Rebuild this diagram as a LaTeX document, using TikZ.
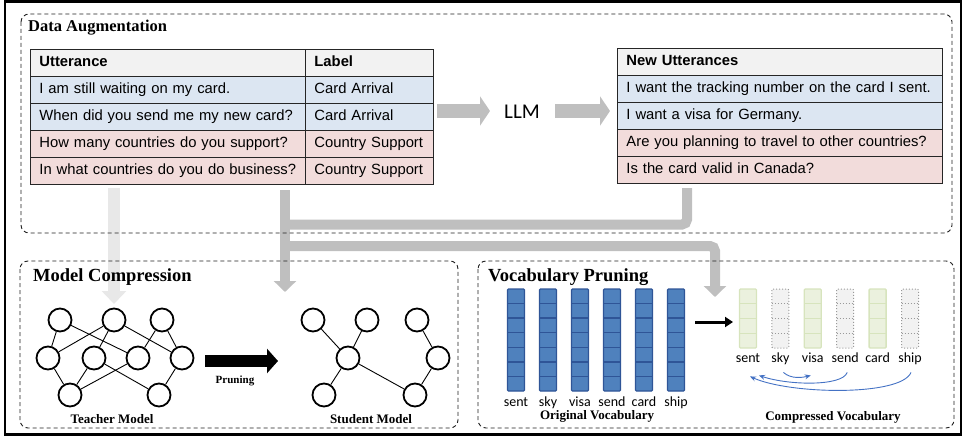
\documentclass[tikz,border=0pt]{standalone}
\usepackage{fontspec}
\setmainfont{Liberation Sans}
\newfontfamily\calf{Carlito}
\newfontfamily\serff{Liberation Serif}
\usetikzlibrary{arrows.meta,calc}
\definecolor{hdr}{HTML}{F2F2F2}
\definecolor{blu}{HTML}{DCE6F2}
\definecolor{pnk}{HTML}{F2DCDB}
\definecolor{arrg}{HTML}{BFBFBF}
\definecolor{arrl}{HTML}{E8E8E8}
\definecolor{vblue}{HTML}{4F81BD}
\definecolor{vblued}{HTML}{2F5597}
\definecolor{vgreen}{HTML}{EBF1DE}
\definecolor{vgreend}{HTML}{D7E4BD}
\definecolor{cblue}{HTML}{4472C4}
\begin{document}
\begin{tikzpicture}[x=1pt,y=-1pt,
  cell/.style={draw=black!85, line width=0.9pt, anchor=north west, minimum height=27pt, inner xsep=9pt, inner ysep=0pt, text height=10.5pt, text depth=3pt, align=left, text width=#1, font=\fontsize{14.8}{17}\selectfont},
  dbox/.style={draw=black!88, line width=0.9pt, dash pattern=on 4pt off 3pt, rounded corners=8pt},
  title/.style={font=\serff\bfseries\fontsize{18.5}{20}\selectfont, anchor=west, inner sep=0pt},
  graybar/.style={draw=arrg, line width=10pt},
  gtip/.style={-{Triangle[width=22pt,length=11pt]}},
  neuron/.style={circle, draw=black, line width=1.8pt, minimum size=23pt, inner sep=0pt},
  edge/.style={line width=0.9pt},
  vlab/.style={font=\calf\fontsize{14}{16}\selectfont, text height=9.5pt, text depth=3pt, inner sep=2pt},
  caplab/.style={font=\serff\bfseries\fontsize{13}{15}\selectfont, inner sep=0pt},
  curv/.style={draw=cblue, line width=0.9pt, -{Stealth[length=6pt,width=5pt]}},
]
\useasboundingbox (0,0) rectangle (964,441);
\draw[line width=2.2pt] (5,1.5) rectangle (961,434.5);

% gray connectors
\draw[draw=arrl, line width=12pt, -{Triangle[width=24pt,length=13pt]}] (114,188) -- (114,304);
\coordinate (g1) at (285,190); \coordinate (g2) at (285,292);
\coordinate (g3) at (687,188); \coordinate (g4) at (285,224.5);
\coordinate (g5) at (285,246); \coordinate (g6) at (715,297);
\draw[graybar, gtip] (g1) -- (g2);
\draw[graybar, rounded corners=5pt] (g3) |- (g4);
\draw[graybar, rounded corners=5pt, gtip] (g5) -| (g6);

% dashed panels
\draw[dbox] (21,14) rectangle (952,233);
\draw[dbox] (20,261) rectangle (458,428);
\draw[dbox] (478,261) rectangle (954,428);

\node[title, font=\serff\bfseries\fontsize{16.5}{18}\selectfont] (tDA) at (28,28) {Data Augmentation};
\node[title] (tMC) at (33,277) {Model Compression};
\node[title] (tVP) at (488,277) {Vocabulary Pruning};

% table 1
\node[cell=257pt, fill=hdr] (h1) at (30,49) {\textbf{Utterance}};
\node[cell=110pt, fill=hdr] (h2) at (305,49) {\textbf{Label}};
\node[cell=257pt, fill=blu] (u1) at (30,76) {\mbox{I am still waiting on my card.}};
\node[cell=110pt, fill=blu] (l1) at (305,76) {\mbox{Card Arrival}};
\node[cell=257pt, fill=blu] (u2) at (30,103) {\mbox{When did you send me my new card?}};
\node[cell=110pt, fill=blu] (l2) at (305,103) {\mbox{Card Arrival}};
\node[cell=257pt, fill=pnk] (u3) at (30,130) {\mbox{How many countries do you support?}};
\node[cell=110pt, fill=pnk] (l3) at (305,130) {\mbox{Country Support}};
\node[cell=257pt, fill=pnk] (u4) at (30,157) {\mbox{In what countries do you do business?}};
\node[cell=110pt, fill=pnk] (l4) at (305,157) {\mbox{Country Support}};

% table 2
\node[cell=307pt, fill=hdr] (n0) at (617,48) {\textbf{New Utterances}};
\node[cell=307pt, fill=blu] (n1) at (617,75) {\mbox{I want the tracking number on the card I sent.}};
\node[cell=307pt, fill=blu] (n2) at (617,102) {\mbox{I want a visa for Germany.}};
\node[cell=307pt, fill=pnk] (n3) at (617,129) {\mbox{Are you planning to travel to other countries?}};
\node[cell=307pt, fill=pnk] (n4) at (617,156) {\mbox{Is the card valid in Canada?}};

% LLM
\node[font=\calf\fontsize{21}{24}\selectfont, inner sep=0pt] (llm) at (522,112) {LLM};
\coordinate (a1s) at (437,111); \coordinate (a1e) at (490,111);
\coordinate (a2s) at (555,111); \coordinate (a2e) at (610,111);
\draw[draw=arrg, line width=14pt, -{Triangle[width=29pt,length=10pt]}] (a1s) -- (a1e);
\draw[draw=arrg, line width=14pt, -{Triangle[width=29pt,length=10pt]}] (a2s) -- (a2e);

% teacher network
\node[neuron] (T1) at (60,320) {};
\node[neuron] (T2) at (114,320) {};
\node[neuron] (T3) at (162,320) {};
\node[neuron] (T4) at (48,358) {};
\node[neuron] (T5) at (94,358) {};
\node[neuron] (T6) at (138,358) {};
\node[neuron] (T7) at (182,358) {};
\node[neuron] (T8) at (70,395) {};
\node[neuron] (T9) at (159,395) {};
\foreach \a/\b in {T1/T4,T1/T6,T2/T4,T2/T5,T2/T7,T3/T6,T3/T7,T4/T8,T5/T8,T5/T9,T6/T8,T7/T9}
  \draw[edge] (\a) -- (\b);

% student network
\node[neuron] (S1) at (313,320) {};
\node[neuron] (S2) at (367,320) {};
\node[neuron] (S3) at (417,320) {};
\node[neuron] (S4) at (348,358) {};
\node[neuron] (S5) at (438,358) {};
\node[neuron] (S6) at (324,395) {};
\node[neuron] (S7) at (415,395) {};
\foreach \a/\b in {S1/S4,S2/S4,S4/S6,S4/S7,S3/S5,S5/S7}
  \draw[edge] (\a) -- (\b);

\coordinate (p1) at (205,361); \coordinate (p2) at (278,361);
\draw[line width=12pt, -{Triangle[width=24pt,length=11pt]}] (p1) -- (p2);
\node[caplab, font=\serff\bfseries\fontsize{11}{13}\selectfont] (prl) at (235,381) {Pruning};
\node[caplab] (tm) at (112,419) {Teacher Model};
\node[caplab] (sm) at (371,419) {Student Model};

% original vocabulary
\foreach \i/\w in {0/sent,1/sky,2/visa,3/send,4/card,5/ship} {
  \pgfmathsetmacro\cx{516+32*\i}
  \draw[fill=vblue, draw=vblued, line width=1.3pt, rounded corners=1pt] (\cx-8.5,289) rectangle (\cx+8.5,391);
  \foreach \k in {1,...,6} \draw[vblued, line width=1.3pt] (\cx-8.5,289+14.571*\k) -- (\cx+8.5,289+14.571*\k);
  \node[vlab] (o\i) at (\cx,403) {\w};
}
\node[caplab] (ov) at (597,416) {Original Vocabulary};

% compressed vocabulary
\foreach \i in {0,2,4} {
  \pgfmathsetmacro\cx{748+32.4*\i}
  \draw[fill=vgreen, draw=vgreend, line width=1.3pt, rounded corners=1pt] (\cx-8.5,289) rectangle (\cx+8.5,348);
  \foreach \k in {1,2,3} \draw[vgreend, line width=1.3pt] (\cx-8.5,289+14.75*\k) -- (\cx+8.5,289+14.75*\k);
}
\foreach \i in {1,3,5} {
  \pgfmathsetmacro\cx{748+32.4*\i}
  \draw[fill=black!5, draw=black!40, line width=1pt, dotted, rounded corners=1pt] (\cx-8.5,289) rectangle (\cx+8.5,348);
  \foreach \k in {1,2,3} \draw[black!40, line width=1pt, dotted] (\cx-8.5,289+14.75*\k) -- (\cx+8.5,289+14.75*\k);
}
\foreach \i/\w in {0/sent,1/sky,2/visa,3/send,4/card,5/ship} {
  \pgfmathsetmacro\cx{748+32.4*\i}
  \node[vlab] (k\i) at (\cx,359) {\w};
}
\node[caplab] (cv) at (833,417) {Compressed Vocabulary};

\coordinate (v1) at (695,322); \coordinate (v2) at (733,322);
\draw[line width=3pt, -{Triangle[width=10pt,length=8pt]}] (v1) -- (v2);

\draw[curv] ($(k1.south)+(3,5)$) .. controls +(8,7) and +(-8,2) .. ($(k2.south)+(-2,8)$);
\draw[curv] ($(k3.south)+(2,5)$) .. controls +(-5,14) and +(30,10) .. ($(k0.south)+(11,8)$);
\draw[curv] ($(k5.south)+(1,5)$) .. controls +(-10,24) and +(40,18) .. ($(k0.south)+(2,9)$);
\end{tikzpicture}
\end{document}
